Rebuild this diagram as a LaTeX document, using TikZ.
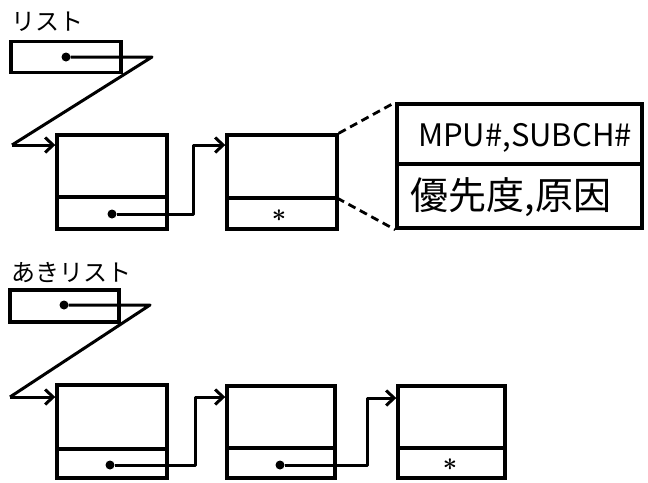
\documentclass[tikz,border=0pt]{standalone}
\usepackage{fontspec}
\setmainfont{Noto Sans CJK JP}
\usetikzlibrary{arrows.meta}
\tikzset{
  cell/.style={draw, line width=3.4pt, inner sep=0pt, minimum width=110pt, minimum height=94pt},
  hdr/.style={draw, line width=3.4pt, inner sep=0pt, minimum width=110pt, minimum height=31pt},
  dotp/.style={circle, fill, inner sep=0pt, minimum size=9pt},
  ptr/.style={line width=3pt, -{Straight Barb[length=8pt,width=15pt,line width=3pt]}, line join=round},
  link/.style={line width=3pt, line join=round},
  divl/.style={line width=3.4pt},
  dsh/.style={line width=2.8pt, dash pattern=on 8pt off 5pt},
  lbl/.style={font=\fontsize{24}{26}\selectfont, inner sep=0pt, anchor=west},
  star/.style={font=\fontsize{36}{36}\selectfont\boldmath, inner sep=0pt}
}
\begin{document}
\begin{tikzpicture}[x=1pt,y=-1pt]
\useasboundingbox (0,0) rectangle (648,482);

% ---------- top list ----------
\node[lbl] (l1) at (11,22) {リスト};
\node[hdr] (h1) at (66,57) {};
\node[dotp] (hd1) at (66,57) {};
\coordinate (hb1) at (152,57);
\coordinate (hc1) at (12,145);

\node[cell] (a1) at (112,182) {};
\draw[divl] (57,197) -- (167,197);
\node[dotp] (ad1) at (112,214) {};

\node[cell] (a2) at (282,182) {};
\coordinate (a2d) at (337,198);
\draw[divl] (227,198) -- (a2d);
\node[star] (s1) at (279,216) {$\ast$};

\node[draw, line width=3.4pt, inner sep=0pt, minimum width=245pt, minimum height=124pt] (D) at (519.5,166) {};
\draw[divl] (397,164) -- (642,164);
\node[font=\fontsize{31}{32}\selectfont, inner sep=0pt] (t1) at (525,138) {MPU\#,SUBCH\#};
\node[font=\fontsize{38}{40}\selectfont, inner sep=0pt] (t2) at (511,197) {優先度,原因};

\draw[link] (hd1) -- (hb1) -- (hc1);
\draw[ptr] (hc1) -- (hc1 -| a1.west);
\coordinate (k1) at (193,145);
\draw[ptr] (ad1) -| (k1) -- (k1 -| a2.west);

\draw[dsh] (a2.north east) -- (D.north west);
\draw[dsh] (a2d) -- (D.south west);

% ---------- free list ----------
\node[lbl] (l2) at (11,273) {あきリスト};
\node[hdr, minimum height=32pt, minimum width=109pt] (h2) at (64.5,306) {};
\node[dotp] (hd2) at (64,305) {};
\coordinate (hb2) at (150,305);
\coordinate (hc2) at (10,397);

\node[cell, minimum height=93pt] (b1) at (112,431.5) {};
\draw[divl] (57,449) -- (167,449);
\node[dotp] (bd1) at (110,465) {};

\node[cell, minimum width=108pt, minimum height=92pt] (b2) at (281,432) {};
\draw[divl] (227,448) -- (335,448);
\node[dotp] (bd2) at (280,465) {};

\node[cell, minimum width=107pt, minimum height=92pt] (b3) at (451.5,432) {};
\draw[divl] (398,448) -- (505,448);
\node[star] (s2) at (450,465) {$\ast$};

\draw[link] (hd2) -- (hb2) -- (hc2);
\draw[ptr] (hc2) -- (hc2 -| b1.west);
\coordinate (k2) at (195,397);
\draw[ptr] (bd1) -| (k2) -- (k2 -| b2.west);
\coordinate (k3) at (367,398);
\draw[ptr] (bd2) -| (k3) -- (k3 -| b3.west);
\end{tikzpicture}
\end{document}
